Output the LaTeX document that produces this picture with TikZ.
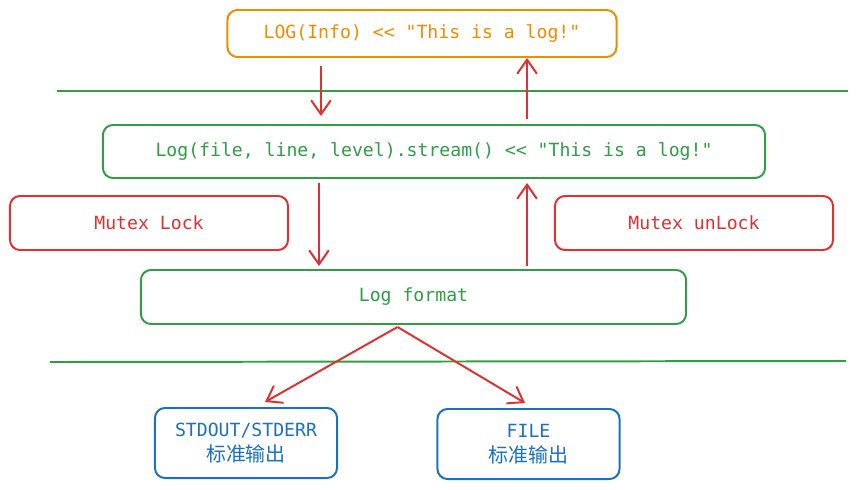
\documentclass[tikz,border=0pt]{standalone}
\usepackage{fontspec}
\setmainfont{DejaVu Sans Mono}[Ligatures=TeXOff]
\newfontfamily\cjk[Scale=1.1]{Noto Sans CJK SC}
\usetikzlibrary{arrows.meta, positioning}

\definecolor{exorange}{HTML}{F08C00}
\definecolor{exgreen}{HTML}{2F9E44}
\definecolor{exred}{HTML}{E03131}
\definecolor{exblue}{HTML}{1971C2}

\begin{document}
\begin{tikzpicture}[
  x=0.025cm, y=-0.025cm,
  every node/.style={font=\fontsize{12.9}{17.7}\selectfont},
  box/.style={draw, rounded corners=0.25cm, line width=1.4pt, text=#1, draw=#1, align=center},
  call box/.style={box=exorange, minimum width=9.725cm, minimum height=1.175cm},
  stream box/.style={box=exgreen, minimum width=16.55cm, minimum height=1.325cm},
  lock box/.style={box=exred, minimum width=6.95cm, minimum height=1.35cm},
  format box/.style={box=exgreen, minimum width=13.625cm, minimum height=1.35cm},
  out box/.style={box=exblue, minimum width=4.55cm, minimum height=1.75cm},
  flow/.style={exred, line width=1.4pt, -{Straight Barb[length=10pt, width=14pt, line width=1.4pt]}},
  layer line/.style={exgreen, line width=1.4pt}
]
  \useasboundingbox (0,0) rectangle (858,489);

  % boxes
  \node[call box]   (log)    at (422,33.5) {LOG(Info) << "This is a log!"};
  \node[stream box] (stream) at (434,151.5) {Log(file, line, level).stream() << "This is a log!"};
  \node[lock box]   (lock)   at (149,223)   {Mutex Lock};
  \node[lock box]   (unlock) at (694,223)   {Mutex unLock};
  \node[format box] (format) at (413.5,297) {Log format};
  \node[out box]    (stdout) at (246,443)   {STDOUT/STDERR\\{\cjk 标准输出}};
  \node[out box]    (file)   at (528.5,444) {FILE\\{\cjk 标准输出}};

  % layer separators
  \coordinate (sep1 west) at (57,91);
  \coordinate (sep1 east) at (848,91);
  \coordinate (sep2 west) at (50,362);
  \coordinate (sep2 east) at (846,361);
  \draw[layer line] (sep1 west) -- (sep1 east);
  \draw[layer line] (sep2 west) -- (sep2 east);

  % down and up through the layers
  \draw[flow] ([xshift=-2.525cm, yshift=-0.2cm]log.south) -- ([xshift=-2.525cm, yshift=0.2cm]log.south |- stream.north);
  \draw[flow] ([xshift=2.625cm, yshift=0.125cm]log.south |- stream.north) -- ([xshift=2.625cm]log.south);
  \draw[flow] ([xshift=-2.875cm, yshift=-0.1cm]stream.south) -- ([xshift=-2.875cm, yshift=0.075cm]stream.south |- format.north);
  \draw[flow] ([xshift=2.325cm, yshift=0.075cm]stream.south |- format.north) -- ([xshift=2.325cm, yshift=-0.1cm]stream.south);

  % outputs
  \foreach \target/\dx in {stdout/0.475cm, file/-0.0875cm} {
    \draw[flow] ([xshift=-0.4cm, yshift=-0.05cm]format.south) -- ([xshift=\dx, yshift=0.125cm]\target.north);
  }
\end{tikzpicture}
\end{document}
